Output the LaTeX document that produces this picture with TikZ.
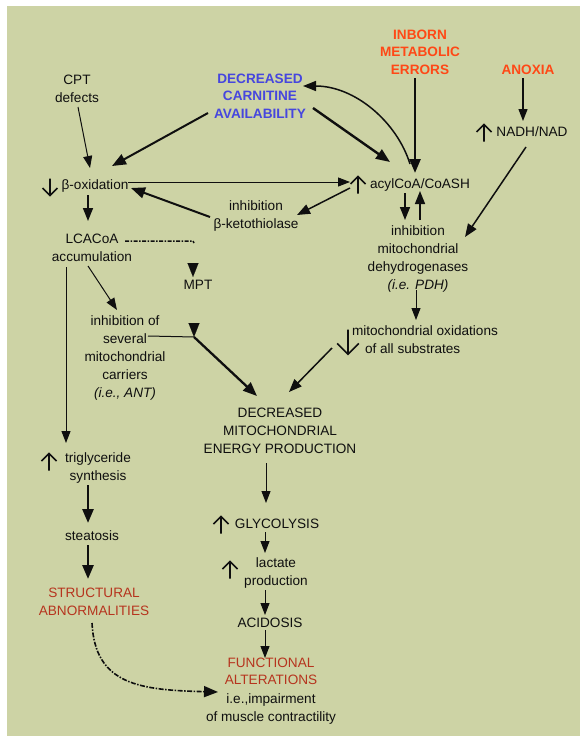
\documentclass[tikz,border=0pt]{standalone}
\usepackage{fontspec}
\setmainfont{Liberation Sans}
\usetikzlibrary{arrows.meta}
\definecolor{bg}{RGB}{205,211,165}
\definecolor{cblue}{RGB}{70,70,222}
\definecolor{cred}{RGB}{255,72,22}
\definecolor{cdark}{RGB}{182,52,30}
\definecolor{ink}{RGB}{15,15,15}
\tikzset{
  lbl/.style={inner sep=1pt, align=center, text=ink},
  blu/.style={lbl, text=cblue, font=\fontsize{13.6}{17.6}\selectfont\bfseries},
  redb/.style={lbl, text=cred, font=\fontsize{13.6}{17.6}\selectfont\bfseries},
  dred/.style={lbl, text=cdark},
  thinarr/.style={draw=ink, line width=1pt, -{Triangle[length=12pt,width=9pt]}},
  medarr/.style={draw=ink, line width=1.5pt, -{Triangle[length=13pt,width=10pt]}},
  bigarr/.style={draw=ink, line width=2.3pt, -{Triangle[length=14pt,width=11pt]}},
  tiponly/.style={draw=ink, line width=0.1pt, -{Triangle[length=14pt,width=11pt]}},
  uparr/.pic={\draw[ink, line width=1.6pt] (0,8.5)--(0,-8.5) (-7.5,-1)--(0,-8.5)--(7.5,-1);},
  dnarr/.pic={\draw[ink, line width=1.6pt] (0,-8.5)--(0,8.5) (-7.5,1)--(0,8.5)--(7.5,1);}
}
\begin{document}
\begin{tikzpicture}[x=1pt, y=-1pt, font=\fontsize{13.6}{17.8}\selectfont]
\useasboundingbox (0,0) rectangle (584,736);
\fill[bg] (7,6) rectangle (580,736);

% nodes
\node[lbl] (cpt) at (77,89) {CPT\\defects};
\node[blu] (carn) at (260,96) {DECREASED\\CARNITINE\\AVAILABILITY};
\node[redb] (inborn) at (420,52) {INBORN\\METABOLIC\\ERRORS};
\node[redb] (anoxia) at (528,70) {ANOXIA};
\node[lbl] (nadh) at (532,132) {NADH/NAD};
\pic at (484,133) {uparr};
\node[lbl] (box) at (95,186) {β-oxidation};
\pic at (50,187) {dnarr};
\node[lbl] (acyl) at (420,185) {acylCoA/CoASH};
\pic at (358,185) {uparr};
\node[lbl] (keto) at (256,216) {inhibition\\β-ketothiolase};
\node[lbl] (lca) at (92,248) {LCACoA\\accumulation};
\node[lbl] (mpt) at (198,285) {MPT};
\node[lbl] (car) at (125,358) {inhibition of\\several\\mitochondrial\\carriers\\\textit{(i.e., ANT)}};
\node[lbl] (dehyd) at (418,259) {inhibition\\mitochondrial\\dehydrogenases\\\textit{(i.e. PDH)}};
\node[lbl, align=left] (oxid) at (425,340) {mitochondrial oxidations\\\hspace*{13pt}of all substrates};
\pic[scale=1.45] at (348,342) {dnarr};
\node[lbl] (energy) at (280,431) {DECREASED\\MITOCHONDRIAL\\ENERGY PRODUCTION};
\node[lbl] (glyc) at (277,524) {GLYCOLYSIS};
\pic at (221,525) {uparr};
\node[lbl] (lact) at (276,573) {lactate\\production};
\pic at (230,570) {uparr};
\node[lbl] (acid) at (270,623) {ACIDOSIS};
\node[lbl] (func) at (271,691) {\textcolor{cdark}{FUNCTIONAL}\\\textcolor{cdark}{ALTERATIONS}\\[1pt]i.e.,impairment\\of muscle contractility};
\node[lbl] (trig) at (98,468) {triglyceride\\synthesis};
\pic at (49,462) {uparr};
\node[lbl] (stea) at (92,536) {steatosis};
\node[dred] (struc) at (94,602) {STRUCTURAL\\ABNORMALITIES};

% helper coordinates
\coordinate (mptcorner) at (193,241);
\coordinate (mpttop) at (193,263);
\coordinate (J) at (194,337);
\coordinate (Jtop) at (194,323);

% connectors
\draw[thinarr] ([shift={(1,18)}]cpt.center) -- ([shift={(-5,-18)}]box.center);
\draw[bigarr, line width=2pt] ([shift={(-52,17)}]carn.center) -- ([shift={(17,-20)}]box.center);
\draw[bigarr, line width=2.4pt] ([shift={(53,12)}]carn.center) -- ([shift={(-30,-23)}]acyl.center);
\draw[medarr] ([shift={(-10,-21)}]acyl.center) .. controls (397,122) and (355,86) .. ([shift={(43,-10)}]carn.center);
\draw[bigarr, line width=2.6pt] ([shift={(-5,26)}]inborn.center) -- ([shift={(-5,-12)}]acyl.center);
\draw[thinarr, line width=1.3pt] ([shift={(-5,8)}]anoxia.center) -- ([shift={(-9,-11)}]nadh.center);
\draw[medarr] ([shift={(-6,15)}]nadh.center) -- ([shift={(47,-22)}]dehyd.center);
\draw[thinarr] ([shift={(33,-4)}]box.center) -- ([shift={(-70,-3)}]acyl.center);
\draw[medarr] ([shift={(-70,3)}]acyl.center) -- ([shift={(41,-1)}]keto.center);
\draw[bigarr, line width=2pt] ([shift={(-46,1)}]keto.center) -- ([shift={(36,2)}]box.center);
\draw[medarr] ([shift={(-15,8)}]acyl.center) -- ([shift={(-13,-39)}]dehyd.center);
\draw[medarr] ([shift={(2,-39)}]dehyd.center) -- ([shift={(0,6)}]acyl.center);
\draw[medarr] ([shift={(-7,9)}]box.center) -- ([shift={(-4,-27)}]lca.center);
\draw[ink, line width=1.5pt, dash pattern=on 4pt off 1.5pt on 1.5pt off 1.5pt] ([shift={(33,-7)}]lca.center) -- (mptcorner) -- ++(1,2);
\draw[tiponly] (mpttop) -- ([shift={(-5,-8)}]mpt.center);
\draw[thinarr] ([shift={(-4,18)}]lca.center) -- ([shift={(-8,-48)}]car.center);
\draw[thinarr] ([shift={(-26,19)}]lca.center) -- ([shift={(-32,-25)}]trig.center);
\draw[ink, line width=1pt] ([shift={(23,-22)}]car.center) -- (J);
\draw[tiponly] (Jtop) -- (J);
\draw[bigarr] (J) -- ([shift={(-23,-35)}]energy.center);
\draw[medarr] ([shift={(-93,8)}]oxid.center) -- ([shift={(9,-39)}]energy.center);
\draw[thinarr] ([shift={(-2,31)}]dehyd.center) -- ([shift={(-9,-20)}]oxid.center);
\draw[thinarr] ([shift={(-14,32)}]energy.center) -- ([shift={(-11,-21)}]glyc.center);
\draw[thinarr] ([shift={(-12,8)}]glyc.center) -- ([shift={(-11,-20)}]lact.center);
\draw[thinarr] ([shift={(-11,17)}]lact.center) -- ([shift={(-5,-8)}]acid.center);
\draw[thinarr] ([shift={(-5,7)}]acid.center) -- ([shift={(-6,-33)}]func.center);
\draw[bigarr, line width=2.6pt] ([shift={(-10,17)}]trig.center) -- ([shift={(-4,-13)}]stea.center);
\draw[bigarr, line width=2.6pt] ([shift={(-4,9)}]stea.center) -- ([shift={(-6,-23)}]struc.center);
\draw[ink, line width=1.6pt, dash pattern=on 5pt off 1.5pt on 1.5pt off 1.5pt, -{Triangle[length=14pt,width=11pt]}]
  ([shift={(-2,21)}]struc.center) .. controls (95,685) and (140,690) .. ([shift={(-53,1)}]func.center);
\end{tikzpicture}
\end{document}
